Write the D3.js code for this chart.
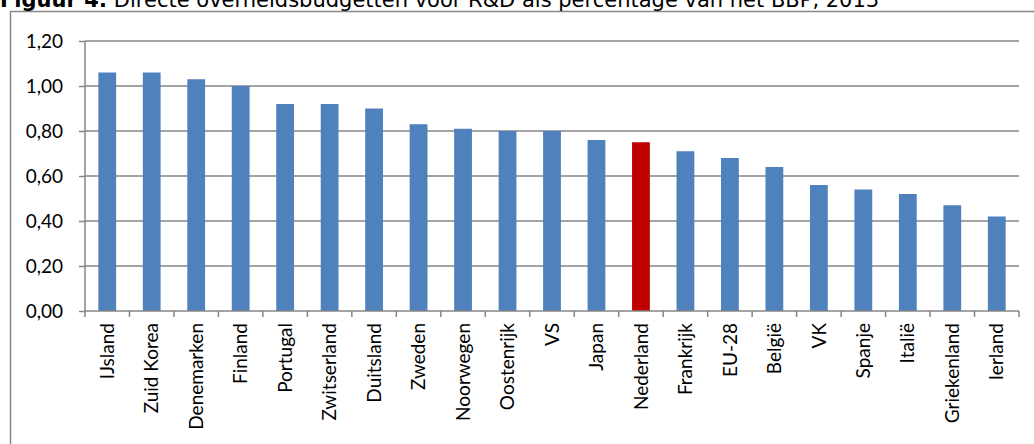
<!DOCTYPE html>
<html lang="nl">
<head>
    <meta charset="UTF-8">
    <title>Figuur 4</title>
    <script src="https://cdn.jsdelivr.net/npm/d3@7"></script>
    <style>
        body {
            margin: 0;
            background: #fff;
        }
        svg {
            display: block;
        }
        .title {
            font-family: "DejaVu Sans", Verdana, sans-serif;
            font-size: 21px;
        }
        .tick text {
            font-family: Lato, Calibri, sans-serif;
            font-size: 19px;
            fill: #000;
        }
    </style>
</head>
<body>
<script>
    const width  = 1034;
    const height = 444;

    // categories and values
    const countries = ["IJsland", "Zuid Korea", "Denemarken", "Finland", "Portugal",
                       "Zwitserland", "Duitsland", "Zweden", "Noorwegen", "Oostenrijk",
                       "VS", "Japan", "Nederland", "Frankrijk", "EU-28", "België",
                       "VK", "Spanje", "Italië", "Griekenland", "Ierland"];
    const values = [1.06, 1.06, 1.03, 1.00, 0.92,
                    0.92, 0.90, 0.83, 0.81, 0.80,
                    0.80, 0.76, 0.75, 0.71, 0.68, 0.64,
                    0.56, 0.54, 0.52, 0.47, 0.42];
    const highlight = "Nederland";
    const yTicks = [0, 0.2, 0.4, 0.6, 0.8, 1.0, 1.2];

    const data = countries.map((c, i) => ({country: c, value: values[i]}));

    const plot = {left: 85, right: 1019, top: 41, bottom: 311};

    const svg = d3.select("body").append("svg")
        .attr("width", width)
        .attr("height", height);

    // outer frame (only top and left edges are visible in the crop)
    svg.append("path")
        .attr("d", `M10.5,${height} V11.5 H${width}`)
        .attr("fill", "none")
        .attr("stroke", "#888")
        .attr("stroke-width", 1.5);

    // title (cut off at the top, as in the original)
    const title = svg.append("text")
        .attr("class", "title")
        .attr("x", 0)
        .attr("y", 7);
    title.append("tspan").attr("font-weight", "bold").text("Figuur 4:");
    title.append("tspan").text(" Directe overheidsbudgetten voor R&D als percentage van het BBP, 2013");

    const x = d3.scaleBand()
        .domain(countries)
        .range([plot.left, plot.right])
        .paddingInner(0.6)
        .paddingOuter(0.3);

    const y = d3.scaleLinear()
        .domain([0, 1.2])
        .range([plot.bottom, plot.top]);

    const fmt = d => d3.format(".2f")(d).replace(".", ",");

    // gridlines
    svg.append("g")
        .selectAll("line")
        .data(yTicks.filter(d => d > 0))
        .join("line")
          .attr("x1", plot.left)
          .attr("x2", plot.right)
          .attr("y1", d => y(d))
          .attr("y2", d => y(d))
          .attr("stroke", "#868686")
          .attr("stroke-width", 1.5);

    // bars
    svg.append("g")
        .selectAll("rect")
        .data(data)
        .join("rect")
          .attr("x", d => x(d.country))
          .attr("y", d => y(d.value))
          .attr("width", x.bandwidth())
          .attr("height", d => y(0) - y(d.value))
          .attr("fill", d => d.country === highlight ? "#C00000" : "#4F81BD");

    // y axis
    const yAxis = svg.append("g")
        .attr("transform", `translate(${plot.left},0)`)
        .call(d3.axisLeft(y).tickValues(yTicks).tickFormat(fmt).tickSize(6).tickPadding(16));
    yAxis.selectAll("line, path").attr("stroke", "#868686").attr("stroke-width", 1.5);
    yAxis.select(".domain").attr("d", `M0,${plot.bottom}V${plot.top}`);

    // x axis: ticks at band boundaries
    const xAxis = svg.append("g")
        .attr("transform", `translate(0,${plot.bottom})`);
    xAxis.append("line")
        .attr("x1", plot.left).attr("x2", plot.right)
        .attr("stroke", "#868686").attr("stroke-width", 1.5);
    xAxis.selectAll(".xtick")
        .data(d3.range(countries.length + 1))
        .join("line")
          .attr("class", "xtick")
          .attr("x1", i => plot.left + i * x.step())
          .attr("x2", i => plot.left + i * x.step())
          .attr("y1", 0)
          .attr("y2", 6)
          .attr("stroke", "#868686")
          .attr("stroke-width", 1.5);

    xAxis.selectAll(".tick")
        .data(countries)
        .join("g")
          .attr("class", "tick")
          .attr("transform", d => `translate(${x(d) + x.bandwidth() / 2},12) rotate(-90)`)
        .append("text")
          .attr("text-anchor", "end")
          .attr("dy", "0.35em")
          .text(d => d);
</script>
</body>
</html>
